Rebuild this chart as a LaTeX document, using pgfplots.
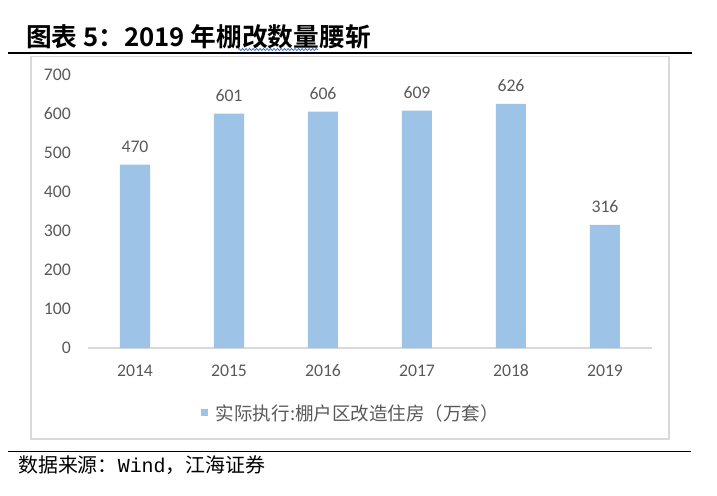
\documentclass[border=0pt]{standalone}
\usepackage{pgfplots}
\pgfplotsset{compat=1.18}
\usepackage{fontspec}
\setmainfont{Carlito}
\setmonofont{Liberation Mono}
\newfontfamily\cjk{Noto Sans CJK SC}
\newfontfamily\cjkb{Noto Sans CJK SC Bold}
\usetikzlibrary{decorations.pathmorphing}
\definecolor{barblue}{HTML}{9DC3E6}
\definecolor{txtgray}{HTML}{595959}
\definecolor{axgray}{HTML}{D9D9D9}
\definecolor{sqblue}{HTML}{4472C4}

\begin{document}
\begin{tikzpicture}
\path[use as bounding box] (0,0) rectangle (717bp,-496bp);
\node[anchor=base west, inner sep=0pt, font=\cjkb\fontsize{25.8}{28}\selectfont] at (26bp,-46bp) {图表 5：2019 年棚改数量腰斩};
\draw[sqblue, line width=0.8bp, decorate, decoration={snake, amplitude=1.1bp, segment length=3.5bp}] (238bp,-49.5bp) -- (318bp,-49.5bp);
\draw[black, line width=1.2bp] (8bp,-53bp) -- (692bp,-53bp);
\draw[axgray, line width=1.3bp] (31bp,-56.5bp) rectangle (669bp,-439bp);
\draw[black, line width=1bp] (8bp,-451bp) -- (691bp,-451bp);
\node[anchor=base west, inner sep=0pt, font=\cjk\fontsize{20}{22}\selectfont] at (18bp,-472bp) {数据来源：{\ttfamily Wind}，江海证券};

\begin{axis}[
  at={(88bp,-348bp)}, anchor=south west,
  scale only axis, width=564bp, height=273bp,
  xmin=-0.5, xmax=5.5, ymin=0, ymax=700,
  axis x line*=bottom, axis y line*=left,
  y axis line style={draw=none},
  x axis line style={axgray, line width=1.3bp},
  major tick length=0pt,
  ytick={0,100,...,700},
  xtick={0,...,5},
  xticklabels={2014,2015,2016,2017,2018,2019},
  /pgf/number format/assume math mode=true,
  ticklabel style={font=\fontsize{17.8}{20}\selectfont, text=txtgray, inner sep=0pt},
  yticklabel style={anchor=east, xshift=-17bp},
  xticklabel style={anchor=north, text height=11bp, yshift=-17bp},
  ybar, bar width=30bp,
  nodes near coords,
  every node near coord/.append style={font=\fontsize{17.8}{20}\selectfont, text=txtgray, inner sep=0pt, anchor=south, yshift=12bp},
  legend style={at={(0.4645,-0.238)}, anchor=center, draw=none, fill=none,
    font=\cjk\fontsize{18.6}{20}\selectfont, text=txtgray,
    nodes={inner sep=0pt}, column sep=8bp},
]
\addplot[fill=barblue, draw=none,
  legend image code/.code={\fill[barblue] (0bp,-3.5bp) rectangle (7bp,3.5bp);}]
  coordinates {(0,470) (1,601) (2,606) (3,609) (4,626) (5,316)};
\addlegendentry{实际执行:棚户区改造住房（万套）}
\end{axis}
\end{tikzpicture}
\end{document}
